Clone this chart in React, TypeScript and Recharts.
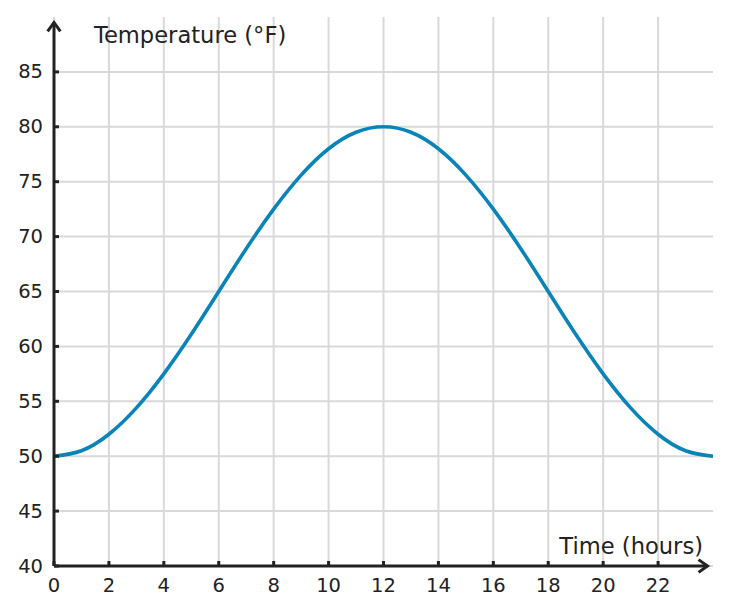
import React from 'react'
import { LineChart, Line, XAxis, YAxis, CartesianGrid, ReferenceLine } from 'recharts'

// hourly readings over one day
const hours = [0, 1, 2, 3, 4, 5, 6, 7, 8, 9, 10, 11, 12, 13, 14, 15, 16, 17, 18, 19, 20, 21, 22, 23, 24]
const temperatures = [
  50, 50.5, 52, 54.4, 57.5, 61.1, 65, 68.9, 72.5, 75.6, 78, 79.5, 80,
  79.5, 78, 75.6, 72.5, 68.9, 65, 61.1, 57.5, 54.4, 52, 50.5, 50,
]
const hourTicks = [0, 2, 4, 6, 8, 10, 12, 14, 16, 18, 20, 22]
const tempTicks = [40, 45, 50, 55, 60, 65, 70, 75, 80, 85]

const data = hours.map((hour, i) => ({ hour, temp: temperatures[i] }))

const INK = '#222222'
const FONT = '"DejaVu Sans", Verdana, sans-serif'

const XTick = (props: any) => {
  const { x, y, payload } = props
  return (
    <g>
      <line x1={x} x2={x} y1={y - 5} y2={y} stroke={INK} strokeWidth={3} />
      <text x={x} y={y + 19} textAnchor="middle" dominantBaseline="central" fontSize={19.5} fontFamily={FONT} fill={INK}>
        {payload.value}
      </text>
    </g>
  )
}

const YTick = (props: any) => {
  const { x, y, payload } = props
  return (
    <g>
      <line x1={x} x2={x + 5} y1={y} y2={y} stroke={INK} strokeWidth={3} />
      <text x={x - 11} y={y} textAnchor="end" dominantBaseline="central" fontSize={19.5} fontFamily={FONT} fill={INK}>
        {payload.value}
      </text>
    </g>
  )
}

// axis line with an open chevron at its far end
const Arrow = (props: any) => {
  const { x1, y1, x2, y2 } = props
  const ang = Math.atan2(y2 - y1, x2 - x1)
  const len = 11
  const spread = 0.62
  const ax = x2 - len * Math.cos(ang - spread)
  const ay = y2 - len * Math.sin(ang - spread)
  const bx = x2 - len * Math.cos(ang + spread)
  const by = y2 - len * Math.sin(ang + spread)
  return (
    <g>
      <line x1={x1} y1={y1} x2={x2} y2={y2} stroke={INK} strokeWidth={3} />
      <polyline points={`${ax},${ay} ${x2},${y2} ${bx},${by}`} fill="none" stroke={INK} strokeWidth={3} strokeLinejoin="miter" />
    </g>
  )
}

const YTitle = (props: any) => {
  const { viewBox } = props
  return (
    <text x={viewBox.x + viewBox.width + 40} y={viewBox.y + 18} dominantBaseline="central" fontSize={22.6} fontFamily={FONT} fill={INK}>
      Temperature (°F)
    </text>
  )
}

const XTitle = (props: any) => {
  const { viewBox } = props
  return (
    <text x={viewBox.x + viewBox.width - 10} y={viewBox.y - 20} textAnchor="end" dominantBaseline="central" fontSize={22.6} fontFamily={FONT} fill={INK}>
      Time (hours)
    </text>
  )
}

// grid only at the tick values, no extra lines on the plot edges
const gridX = ({ xAxis, offset }: any) =>
  hourTicks.map(v =>
    xAxis && typeof xAxis.scale === 'function' ? xAxis.scale(v) : offset.left + (v / 24) * offset.width,
  )
const gridY = ({ yAxis, offset }: any) =>
  tempTicks.map(v =>
    yAxis && typeof yAxis.scale === 'function' ? yAxis.scale(v) : offset.top + ((90 - v) / 50) * offset.height,
  )

export default function App() {
  return (
    <div style={{ position: 'absolute', left: 0, top: 0, width: 731, height: 615, background: '#fff' }}>
      <LineChart width={731} height={615} data={data} margin={{ top: 17, right: 18, bottom: 0, left: 0 }}>
        <CartesianGrid
          stroke="#d9d9d9"
          strokeWidth={2}
          verticalCoordinatesGenerator={gridX}
          horizontalCoordinatesGenerator={gridY}
        />
        <XAxis
          dataKey="hour"
          type="number"
          domain={[0, 24]}
          ticks={hourTicks}
          height={49}
          axisLine={false}
          tickLine={false}
          tickSize={0}
          tickMargin={0}
          tick={<XTick />}
          interval={0}
          label={{ content: <XTitle /> }}
        />
        <YAxis
          type="number"
          domain={[40, 90]}
          ticks={tempTicks}
          width={54}
          axisLine={false}
          tickLine={false}
          tickSize={0}
          tickMargin={0}
          tick={<YTick />}
          interval={0}
          label={{ content: <YTitle /> }}
        />
        <Line
          dataKey="temp"
          type="natural"
          stroke="#0a84b8"
          strokeWidth={3.6}
          dot={false}
          activeDot={false}
          isAnimationActive={false}
        />
        <ReferenceLine segment={[{ x: 0, y: 40 }, { x: 0, y: 89.5 }]} ifOverflow="visible" shape={<Arrow />} />
        <ReferenceLine segment={[{ x: 0, y: 40 }, { x: 23.8, y: 40 }]} ifOverflow="visible" shape={<Arrow />} />
      </LineChart>
    </div>
  )
}
